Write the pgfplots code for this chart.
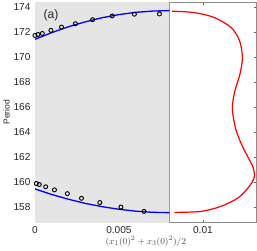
\documentclass[border=0pt]{standalone}
\usepackage{pgfplots}
\pgfplotsset{compat=1.18}
\usepackage{fontspec}
\setmainfont{Liberation Sans}
\begin{document}
\begin{tikzpicture}[x=1bp,y=1bp]
\begin{axis}[
  scale only axis,
  width=219bp, height=218bp,
  xmin=0, xmax=0.0132,
  ymin=156.76, ymax=174.4,
  xtick={0,0.005,0.01},
  xticklabels={0,0.005,0.01},
  scaled x ticks=false,
  ytick={158,160,...,174},
  tick pos=both,
  tick align=inside,
  major tick length=3bp,
  axis line style={black!45, line width=0.6pt},
  every tick/.style={black!60, line width=0.5pt},
  tick label style={font=\fontsize{10}{11}\selectfont, text=black!85},
  yticklabel style={xshift=-1bp},
  /pgf/number format/assume math mode=true,
  xlabel={$(x_1(0)^2+x_3(0)^2)/2$},
  ylabel={Period},
  xlabel style={font=\fontsize{9.5}{10}\selectfont, text=black!70, yshift=4bp},
  ylabel style={font=\fontsize{8.5}{9}\selectfont, text=black!85, yshift=-3bp},
  clip=true,
]
\fill[black!10] (axis cs:0,156.76) rectangle (axis cs:0.008,174.4);
\draw[black!40, line width=0.8pt] (axis cs:0.008,156.76) -- (axis cs:0.008,174.4);
% blue fitted curves
\addplot[blue, line width=1.3pt, no marks] coordinates {
(0,171.40) (0.001,171.94) (0.002,172.41) (0.003,172.80) (0.004,173.13)
(0.005,173.38) (0.006,173.56) (0.007,173.66) (0.008,173.70)};
\addplot[blue, line width=1.3pt, no marks] coordinates {
(0,159.45) (0.001,159.00) (0.002,158.62) (0.003,158.29) (0.004,158.03)
(0.005,157.82) (0.006,157.67) (0.007,157.58) (0.008,157.55)};
% red curve
\addplot[red, line width=1.2pt, no marks, smooth] coordinates {
(0.00830,157.57) (0.00988,157.65) (0.01108,158.06) (0.01209,158.73)
(0.01269,159.54) (0.01305,160.34) (0.01299,161.15) (0.01269,161.96)
(0.01229,163.03) (0.01195,164.25) (0.01175,165.86) (0.01189,167.21)
(0.01219,168.56) (0.01235,169.90) (0.01219,171.25) (0.01169,172.33)
(0.01068,173.14) (0.00948,173.54) (0.00817,173.65)};
% simulation points
\addplot[only marks, mark=o, mark size=2pt, black, mark options={line width=0.9pt}] coordinates {
(0,171.71) (0.00018,171.79) (0.00044,171.87) (0.00095,172.12) (0.00158,172.38)
(0.00241,172.65) (0.00343,172.97) (0.00460,173.27) (0.00592,173.41) (0.00741,173.43)};
\addplot[only marks, mark=o, mark size=2pt, black, mark options={line width=0.9pt}] coordinates {
(0.00008,159.88) (0.00026,159.80) (0.00064,159.62) (0.00116,159.37) (0.00193,159.07)
(0.00277,158.70) (0.00386,158.36) (0.00512,158.00) (0.00649,157.65)};
\node[font=\fontsize{12}{13}\selectfont, text=black!85] at (axis cs:0.00095,173.3) {(a)};
\end{axis}
\end{tikzpicture}
\end{document}
